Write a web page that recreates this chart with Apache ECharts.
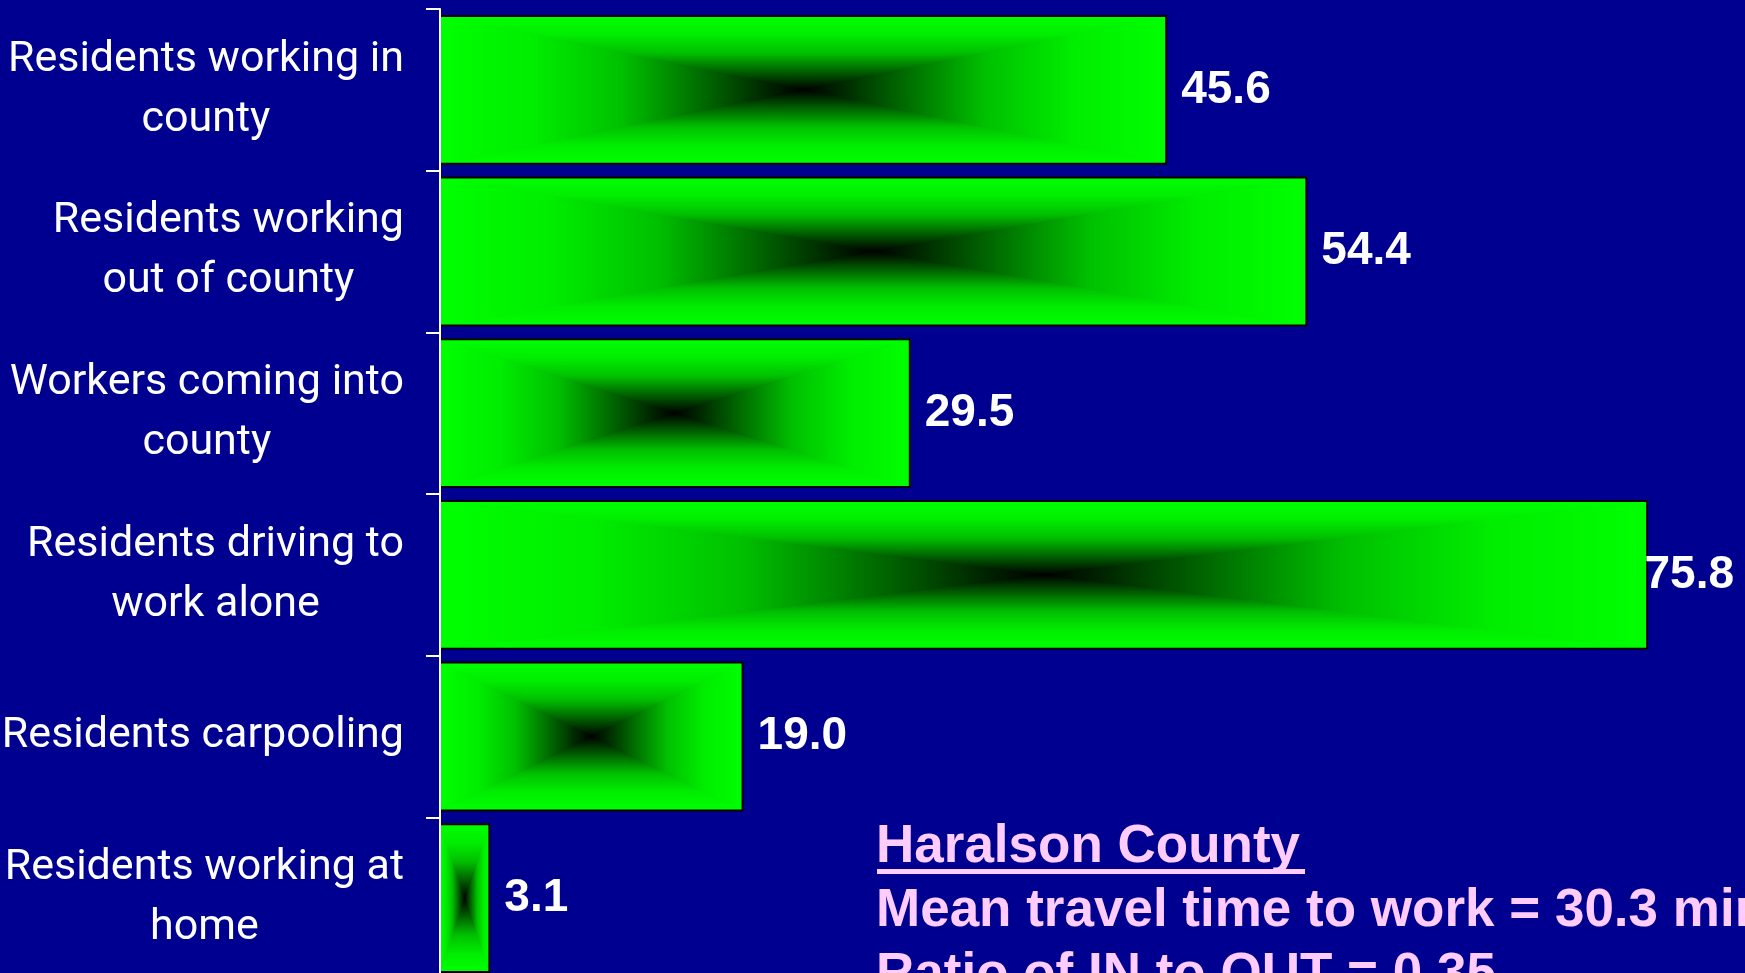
<!DOCTYPE html>
<html>
<head>
<meta charset="utf-8">
<script src="https://cdn.jsdelivr.net/npm/echarts@6/dist/echarts.min.js"></script>
<style>
  html, body { margin: 0; padding: 0; background: #000090; }
  #chart { width: 1745px; height: 973px; }
</style>
</head>
<body>
<div id="chart"></div>
<script>
const categories = [
  'Residents working in\ncounty',
  'Residents working\nout of county',
  'Workers coming into\ncounty',
  'Residents driving to\nwork alone',
  'Residents carpooling',
  'Residents working at\nhome'
];
const values = [45.6, 54.4, 29.5, 75.8, 19.0, 3.1];
const noteTitle = 'Haralson County';
const noteLines = ['Mean travel time to work = 30.3 minutes', 'Ratio of IN to OUT = 0.35'];

const chart = echarts.init(document.getElementById('chart'), null, { renderer: 'canvas' });
const G = echarts.graphic;
const stopsOut = [
  { offset: 0, color: '#00ff00' },
  { offset: 0.25, color: '#00ee00' },
  { offset: 0.5, color: '#00c000' },
  { offset: 0.75, color: '#006000' },
  { offset: 0.9, color: '#002500' },
  { offset: 1, color: '#000000' }
];
const stopsIn = stopsOut.map(s => ({ offset: 1 - s.offset, color: s.color })).reverse();

function tri(points, x0, y0, x1, y1, stops) {
  const g = new G.LinearGradient(x0, y0, x1, y1, stops);
  return { type: 'polygon', shape: { points: points }, style: { fill: g, stroke: g, lineWidth: 1 } };
}

function renderBar(params, api) {
  const v = api.value(0);
  const c = api.value(1);
  const start = api.coord([0, c]);
  const end = api.coord([v, c]);
  const band = api.size([0, 1])[1];
  const h = band * 0.914;
  const x0 = start[0], x1 = end[0];
  const cy = start[1];
  const y0 = cy - h / 2, y1 = cy + h / 2;
  const cx = (x0 + x1) / 2;
  const W = api.getWidth();
  let lx = x1 + 15, align = 'left';
  if (lx + 95 > W) { lx = W - 11; align = 'right'; }
  return {
    type: 'group',
    children: [
      tri([[x0, y0], [x1, y0], [cx, cy]], 0, 0, 0, 1, stopsOut),
      tri([[x0, y1], [x1, y1], [cx, cy]], 0, 0, 0, 1, stopsIn),
      tri([[x0, y0], [x0, y1], [cx, cy]], 0, 0, 1, 0, stopsOut),
      tri([[x1, y0], [x1, y1], [cx, cy]], 0, 0, 1, 0, stopsIn),
      { type: 'rect', shape: { x: x0, y: y0, width: x1 - x0, height: h },
        style: { fill: 'none', stroke: '#000000', lineWidth: 2 } },
      { type: 'text', x: lx, y: cy,
        style: { text: v.toFixed(1), fill: '#ffffff', align: align, verticalAlign: 'middle',
                 font: 'bold 46px "Liberation Sans", Arial, sans-serif' } }
    ]
  };
}

const option = {
  backgroundColor: '#000090',
  animation: false,
  grid: { left: 440, top: 9, width: 1274, height: 970, outerBoundsMode: 'none', containLabel: false },
  xAxis: { type: 'value', min: 0, max: 80, show: false },
  yAxis: {
    type: 'category',
    data: categories,
    inverse: true,
    z: 5,
    axisLine: { show: true, lineStyle: { color: '#ffffff', width: 2 } },
    axisTick: { show: true, length: 14, lineStyle: { color: '#ffffff', width: 2 } },
    splitLine: { show: false },
    axisLabel: {
      margin: 36,
      color: '#ffffff',
      formatter: val => val.split('\n').map(l => '{a|' + l + '}').join('\n'),
      rich: {
        a: {
          align: 'center',
          color: '#ffffff',
          fontFamily: 'Roboto, "Liberation Sans", sans-serif',
          fontSize: 43,
          lineHeight: 60
        }
      }
    }
  },
  series: [{
    type: 'custom',
    renderItem: renderBar,
    encode: { x: 0, y: 1 },
    data: values.map((v, i) => [v, i]),
    clip: false,
    z: 2
  }],
  graphic: [
    { type: 'text', x: 876, y: 847,
      style: { text: noteTitle, fill: '#ffccff', verticalAlign: 'middle',
               font: 'bold 53px "Liberation Sans", Arial, sans-serif' } },
    { type: 'rect', shape: { x: 877, y: 869, width: 428, height: 5 }, style: { fill: '#ffccff' } },
    { type: 'text', x: 876, y: 911,
      style: { text: noteLines[0], fill: '#ffccff', verticalAlign: 'middle',
               font: 'bold 53px "Liberation Sans", Arial, sans-serif' } },
    { type: 'text', x: 876, y: 975,
      style: { text: noteLines[1], fill: '#ffccff', verticalAlign: 'middle',
               font: 'bold 53px "Liberation Sans", Arial, sans-serif' } }
  ]
};
chart.setOption(option);
</script>
</body>
</html>
